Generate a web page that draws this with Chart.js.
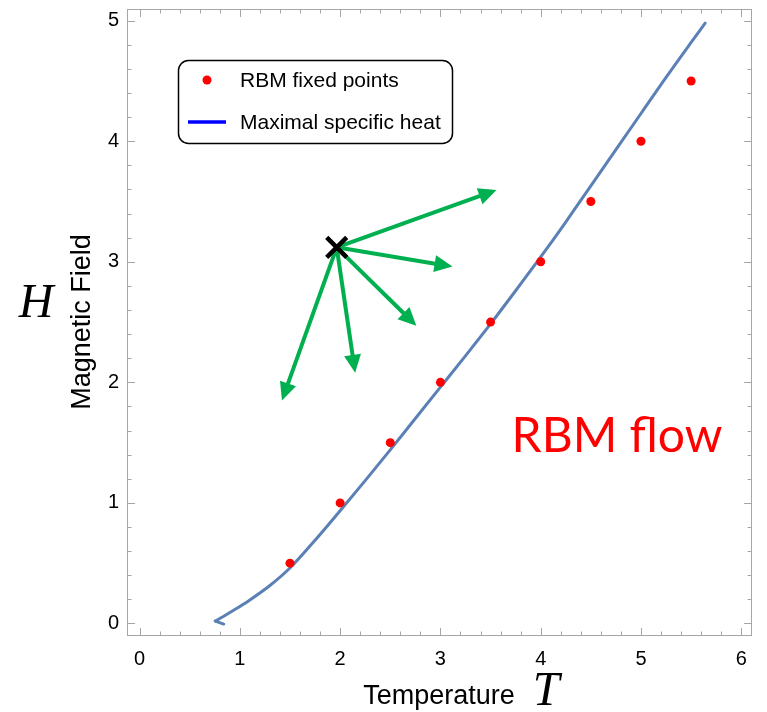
<!DOCTYPE html>
<html>
<head>
<meta charset="utf-8">
<script src="https://cdn.jsdelivr.net/npm/chart.js@4.4.1/dist/chart.umd.min.js"></script>
<style>
	body { margin: 0; background: #fff; }
	#myChart { display: block; }
</style>
</head>
<body>
<canvas id="myChart" width="767" height="712"></canvas>
<script>
// RBM fixed points
var fixedT = [1.5, 2, 2.5, 3, 3.5, 4, 4.5, 5, 5.5];
var fixedH = [0.5, 1, 1.5, 2, 2.5, 3, 3.5, 4, 4.5];

// line of maximal specific heat
var heatT = [0.755, 0.84, 0.95, 1.1, 1.3, 1.5, 1.75, 2, 2.25, 2.5, 2.75, 3, 3.25, 3.5, 3.75, 4, 4.25, 4.5, 4.75, 5, 5.25, 5.5, 5.64];
var heatH = [0.02, 0.06, 0.115, 0.195, 0.315, 0.46, 0.69, 0.935, 1.185, 1.44, 1.7, 1.96, 2.22, 2.485, 2.76, 3.04, 3.33, 3.63, 3.93, 4.23, 4.53, 4.82, 4.98];
// the small hook at its lower end
var hookT = [0.84, 0.755];
var hookH = [-0.005, 0.02];

// flow arrows out of the starting point
var startT = 1.966;
var startH = 3.12;
var arrowT = [3.56, 3.12, 2.76, 2.15, 1.42];
var arrowH = [3.595, 2.96, 2.47, 2.08, 1.85];

var xTicks = [0, 1, 2, 3, 4, 5, 6];
var yTicks = [0, 1, 2, 3, 4, 5];

var labelFixed = "RBM fixed points";
var labelHeat = "Maximal specific heat";

var toXY = (xs, ys) => xs.map((x, i) => ({ x: x, y: ys[i] }));

var frameColor = "#a6a6a6";
var curveColor = "#5b80b5";
var sansFont = "'Liberation Sans', Arial, sans-serif";

// frame with inward ticks, tick labels, axis titles, arrows, legend
var decorations = {
	id: "decorations",
	afterDatasetsDraw(chart) {
		var ctx = chart.ctx;
		var a = chart.chartArea;
		var sx = chart.scales.x;
		var sy = chart.scales.y;
		ctx.save();

		// frame
		ctx.strokeStyle = frameColor;
		ctx.lineWidth = 1;
		ctx.strokeRect(a.left + 0.5, a.top + 0.5, a.right - a.left - 1, a.bottom - a.top - 1);

		// ticks every 0.2, longer at integers
		ctx.beginPath();
		for (var i = 0; i <= 30; i++) {
			var v = i / 5;
			var px = Math.round(sx.getPixelForValue(v)) + 0.5;
			var len = i % 5 == 0 ? 8 : 4.5;
			ctx.moveTo(px, a.bottom);
			ctx.lineTo(px, a.bottom - len);
			ctx.moveTo(px, a.top);
			ctx.lineTo(px, a.top + len);
		}
		for (var j = 0; j <= 25; j++) {
			var w = j / 5;
			var py = Math.round(sy.getPixelForValue(w)) + 0.5;
			var len2 = j % 5 == 0 ? 8 : 4.5;
			ctx.moveTo(a.left, py);
			ctx.lineTo(a.left + len2, py);
			ctx.moveTo(a.right, py);
			ctx.lineTo(a.right - len2, py);
		}
		ctx.stroke();

		// tick labels
		ctx.fillStyle = "#000";
		ctx.font = "20px " + sansFont;
		ctx.textAlign = "center";
		ctx.textBaseline = "middle";
		xTicks.forEach((t) => ctx.fillText(String(t), sx.getPixelForValue(t), 659));
		ctx.textAlign = "right";
		yTicks.forEach((t) => ctx.fillText(String(t), 119, sy.getPixelForValue(t)));

		// axis titles
		ctx.font = "27px " + sansFont;
		ctx.textAlign = "center";
		ctx.fillText("Temperature", 439, 697);
		ctx.save();
		ctx.translate(83, 322);
		ctx.rotate(-Math.PI / 2);
		ctx.fillText("Magnetic Field", 0, 0);
		ctx.restore();
		ctx.font = "italic 48px 'Liberation Serif', 'Times New Roman', serif";
		ctx.textBaseline = "alphabetic";
		ctx.fillText("T", 546, 705);
		ctx.fillText("H", 36, 317);

		// flow arrows
		var x0 = sx.getPixelForValue(startT);
		var y0 = sy.getPixelForValue(startH);
		ctx.strokeStyle = "#00b050";
		ctx.fillStyle = "#00b050";
		ctx.lineWidth = 4;
		arrowT.forEach((t, k) => {
			var x1 = sx.getPixelForValue(t);
			var y1 = sy.getPixelForValue(arrowH[k]);
			var ang = Math.atan2(y1 - y0, x1 - x0);
			var head = 18;
			var half = 8.5;
			var bx = x1 - head * Math.cos(ang);
			var by = y1 - head * Math.sin(ang);
			ctx.beginPath();
			ctx.moveTo(x0, y0);
			ctx.lineTo(bx + 2 * Math.cos(ang), by + 2 * Math.sin(ang));
			ctx.stroke();
			ctx.beginPath();
			ctx.moveTo(x1, y1);
			ctx.lineTo(bx + half * Math.sin(ang), by - half * Math.cos(ang));
			ctx.lineTo(bx - half * Math.sin(ang), by + half * Math.cos(ang));
			ctx.closePath();
			ctx.fill();
		});

		// start point marker
		ctx.strokeStyle = "#000";
		ctx.lineWidth = 4.5;
		ctx.beginPath();
		ctx.moveTo(x0 - 10, y0 - 10);
		ctx.lineTo(x0 + 10, y0 + 10);
		ctx.moveTo(x0 + 10, y0 - 10);
		ctx.lineTo(x0 - 10, y0 + 10);
		ctx.stroke();

		// RBM flow annotation
		ctx.fillStyle = "#ff0000";
		ctx.font = "48px Lato, 'Open Sans', sans-serif";
		ctx.textAlign = "left";
		ctx.fillText("RBM flow", sx.getPixelForValue(3.71), sy.getPixelForValue(1.42));

		// legend
		ctx.strokeStyle = "#000";
		ctx.lineWidth = 1.5;
		ctx.beginPath();
		ctx.roundRect(178.5, 60.5, 274, 83, 10);
		ctx.stroke();
		ctx.fillStyle = "#ff0000";
		ctx.beginPath();
		ctx.arc(207, 80, 4.5, 0, Math.PI * 2);
		ctx.fill();
		ctx.strokeStyle = "#0000ff";
		ctx.lineWidth = 3.5;
		ctx.beginPath();
		ctx.moveTo(188, 122);
		ctx.lineTo(226, 122);
		ctx.stroke();
		ctx.fillStyle = "#000";
		ctx.font = "21px " + sansFont;
		ctx.textBaseline = "middle";
		ctx.fillText(labelFixed, 240, 81);
		ctx.fillText(labelHeat, 240, 123);

		ctx.restore();
	},
};

const ctx = document.getElementById("myChart").getContext("2d");
var chart = new Chart(ctx, {
	type: "scatter",
	data: {
		datasets: [
			{
				label: labelFixed,
				data: toXY(fixedT, fixedH),
				backgroundColor: "#ff0000",
				borderColor: "#ff0000",
				pointRadius: 4.5,
				borderWidth: 0,
			},
			{
				label: labelHeat,
				data: toXY(heatT, heatH),
				showLine: true,
				fill: false,
				borderColor: curveColor,
				borderWidth: 3,
				borderCapStyle: "round",
				pointRadius: 0,
				cubicInterpolationMode: "monotone",
			},
			{
				label: labelHeat,
				data: toXY(hookT, hookH),
				showLine: true,
				fill: false,
				borderColor: curveColor,
				borderWidth: 3,
				borderCapStyle: "round",
				pointRadius: 0,
			},
		],
	},
	options: {
		responsive: false,
		devicePixelRatio: 1,
		animation: false,
		events: [],
		layout: {
			padding: { top: 9, right: 15, left: 0, bottom: 0 },
		},
		plugins: {
			legend: { display: false },
			tooltip: { enabled: false },
		},
		scales: {
			x: {
				type: "linear",
				position: "bottom",
				min: -0.125,
				max: 6.107,
				grid: { display: false, drawTicks: false },
				border: { display: false },
				ticks: { display: false },
				afterFit: (s) => { s.height = 76; },
			},
			y: {
				type: "linear",
				min: -0.104,
				max: 5.097,
				grid: { display: false, drawTicks: false },
				border: { display: false },
				ticks: { display: false },
				afterFit: (s) => { s.width = 127; },
			},
		},
	},
	plugins: [decorations],
});
</script>
</body>
</html>
